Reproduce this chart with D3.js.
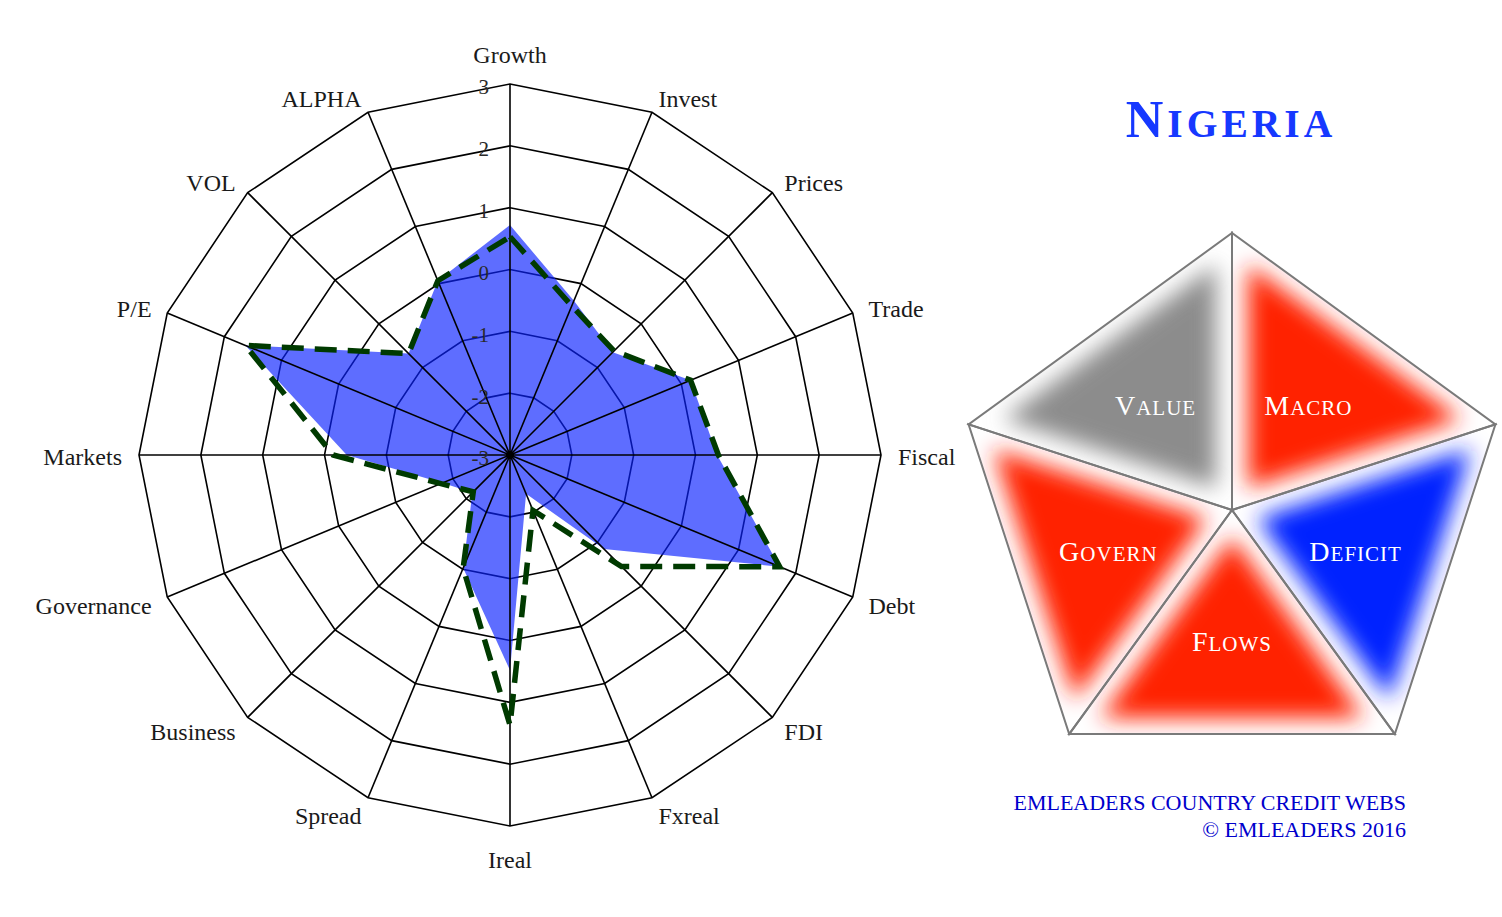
<!DOCTYPE html>
<html><head><meta charset="utf-8">
<script src="https://cdn.jsdelivr.net/npm/d3@7"></script>
<style>body{margin:0;background:#fff;} svg{display:block;}</style>
</head><body><svg id="c" width="1502" height="917"></svg>
<script>
// ---------- data ----------
const categories = ["Growth","Invest","Prices","Trade","Fiscal","Debt","FDI","Fxreal","Ireal","Spread","Business","Governance","Markets","P/E","VOL","ALPHA"];
const currentValues  = [0.72,-0.30,-0.65,0.16,0.35,1.72,-0.85,-2.32,0.48,-1.02,-2.14,-1.82,-0.36,1.63,-0.68,0.05];
const previousValues = [0.53,-0.39,-0.62,0.16,0.37,1.72,-0.45,-2.03,1.37,-1.02,-2.16,-1.79,-0.14,1.63,-0.68,0.05];
const tickValues = [-3,-2,-1,0,1,2,3];
const countryName = "Nigeria";
const pillarNames  = ["Macro","Deficit","Flows","Govern","Value"];
const pillarColors = ["#ff2200","#0022ff","#ff2200","#ff2200","#8c8c8c"];
const footerLines = ["EMLEADERS COUNTRY CREDIT WEBS","\u00A9 EMLEADERS 2016"];

// ---------- setup ----------
const svg = d3.select("#c");
const serif = "'Liberation Serif','Times New Roman',serif";
const defs = svg.append("defs");

// ---------- radar ----------
const cx = 510, cy = 455, R = 371;
const n = categories.length;
const rScale = d3.scaleLinear().domain([-3, 3]).range([0, R]);
const aScale = d3.scaleLinear().domain([0, n]).range([0, 2 * Math.PI]);
const radial = d3.lineRadial()
  .angle((d, i) => aScale(i))
  .radius(d => rScale(d))
  .curve(d3.curveLinearClosed);

const g = svg.append("g").attr("transform", `translate(${cx},${cy})`);

// rings
g.append("g").selectAll("path")
  .data(tickValues.filter(v => v > -3))
  .join("path")
  .attr("d", v => radial(categories.map(() => v)))
  .attr("fill", "none").attr("stroke", "#000").attr("stroke-width", 1.6);

// current fill
g.append("path")
  .attr("d", radial(currentValues))
  .attr("fill", "#0a22ff").attr("fill-opacity", 0.66).attr("stroke", "none");

// spokes
g.append("g").selectAll("line")
  .data(categories)
  .join("line")
  .attr("x1", 0).attr("y1", 0)
  .attr("x2", (d, i) => rScale(3) * Math.sin(aScale(i)))
  .attr("y2", (d, i) => -rScale(3) * Math.cos(aScale(i)))
  .attr("stroke", "#000").attr("stroke-width", 1.6);

// previous dashed
g.append("path")
  .attr("d", radial(previousValues))
  .attr("fill", "none").attr("stroke", "#003a00").attr("stroke-width", 5.5)
  .attr("stroke-dasharray", "22,11").attr("stroke-linejoin", "miter");

g.append("circle").attr("r", 4).attr("fill", "#000");

// tick labels
g.append("g").selectAll("text")
  .data(tickValues)
  .join("text")
  .attr("x", -21)
  .attr("y", v => -rScale(v) + 3)
  .attr("dy", "0.35em")
  .attr("text-anchor", "end")
  .attr("font-family", serif).attr("font-size", 21).attr("fill", "#2a2a2a")
  .text(v => v);

// axis labels
const LR = 388;
g.append("g").selectAll("text")
  .data(categories)
  .join("text")
  .each(function (d, i) {
    const a = aScale(i), dx = Math.sin(a), dy = -Math.cos(a);
    let x = LR * dx, y = LR * dy;
    let anchor = "middle";
    if (Math.abs(dx) < 0.01) { y += dy < 0 ? -12 : 17; }
    else { anchor = dx > 0 ? "start" : "end"; y += 2; }
    d3.select(this).attr("x", x).attr("y", y).attr("text-anchor", anchor);
  })
  .attr("dy", "0.35em")
  .attr("font-family", serif).attr("font-size", 24).attr("fill", "#1a1a1a")
  .text(d => d);

// ---------- small caps helper ----------
function smallCaps(sel, str, size, ratio, spacing) {
  sel.append("tspan").attr("font-size", size).text(str[0].toUpperCase());
  sel.append("tspan").attr("font-size", size * ratio).attr("dx", spacing || 0)
    .attr("letter-spacing", spacing || 0).text(str.slice(1).toUpperCase());
}

// ---------- title ----------
const title = svg.append("text")
  .attr("x", 1231).attr("y", 137)
  .attr("text-anchor", "middle")
  .attr("font-family", serif).attr("font-weight", "bold").attr("fill", "#1638ff");
smallCaps(title, countryName, 52, 0.76, 4);

// ---------- pentagon ----------
const pc = [1232, 510], pr = 277;
const verts = d3.range(5).map(i => {
  const a = -Math.PI / 2 + i * 2 * Math.PI / 5;
  return [pc[0] + pr * Math.cos(a), pc[1] + pr * Math.sin(a)];
});

defs.append("filter").attr("id", "blur")
  .attr("x", "-50%").attr("y", "-50%").attr("width", "200%").attr("height", "200%")
  .append("feGaussianBlur").attr("stdDeviation", 11);

const dist = (p, q) => Math.hypot(p[0] - q[0], p[1] - q[1]);
const pent = svg.append("g");
pillarNames.forEach((name, i) => {
  const A = pc, B = verts[i], C = verts[(i + 1) % 5];
  const a = dist(B, C), b = dist(A, C), c = dist(A, B);
  const per = a + b + c;
  const I = [(a * A[0] + b * B[0] + c * C[0]) / per, (a * A[1] + b * B[1] + c * C[1]) / per];
  const area = Math.abs((B[0] - A[0]) * (C[1] - A[1]) - (C[0] - A[0]) * (B[1] - A[1])) / 2;
  const rho = area / (per / 2);
  const k = (rho - 16) / rho;
  const inner = [A, B, C].map(P => [I[0] + (P[0] - I[0]) * k, I[1] + (P[1] - I[1]) * k]);
  const tri = [A, B, C];
  defs.append("clipPath").attr("id", "clip" + i)
    .append("polygon").attr("points", tri.map(p => p.join(",")).join(" "));
  const tg = pent.append("g").attr("clip-path", `url(#clip${i})`);
  tg.append("polygon").attr("points", tri.map(p => p.join(",")).join(" ")).attr("fill", "#fff");
  tg.append("polygon").attr("points", inner.map(p => p.join(",")).join(" "))
    .attr("fill", pillarColors[i]).attr("filter", "url(#blur)");
});
pillarNames.forEach((name, i) => {
  const tri = [pc, verts[i], verts[(i + 1) % 5]];
  pent.append("polygon").attr("points", tri.map(p => p.join(",")).join(" "))
    .attr("fill", "none").attr("stroke", "#7a7a7a").attr("stroke-width", 2)
    .attr("stroke-linejoin", "miter");
});
pillarNames.forEach((name, i) => {
  const a = -Math.PI / 2 + (i + 0.5) * 2 * Math.PI / 5;
  const t = pent.append("text")
    .attr("x", pc[0] + 130 * Math.cos(a))
    .attr("y", pc[1] + 130 * Math.sin(a) + 5)
    .attr("dy", "0.35em")
    .attr("text-anchor", "middle")
    .attr("font-family", serif).attr("fill", "#fff");
  smallCaps(t, name, 28, 0.75, 1);
});

// ---------- footer ----------
svg.append("g").selectAll("text")
  .data(footerLines)
  .join("text")
  .attr("x", 1406).attr("y", (d, i) => 810 + i * 27)
  .attr("text-anchor", "end")
  .attr("font-family", serif).attr("font-size", 22).attr("fill", "#0000cc")
  .text(d => d);
</script>
</body></html>
